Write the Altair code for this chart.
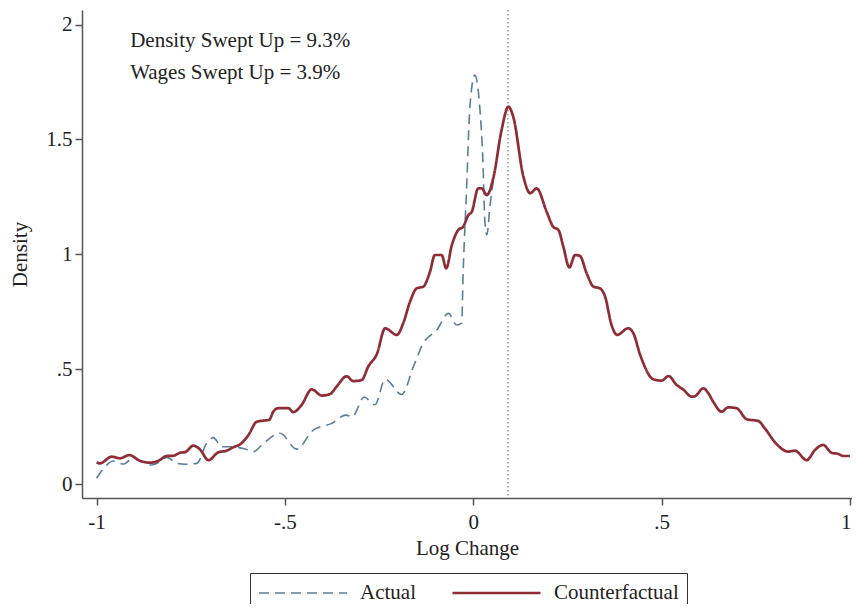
import altair as alt
import pandas as pd

# Counterfactual density
cf_x = [-1.000, -0.991, -0.960, -0.938, -0.913, -0.885, -0.858, -0.836, -0.814, -0.796,
        -0.779, -0.765, -0.743, -0.726, -0.703, -0.677, -0.655, -0.637, -0.619, -0.597,
        -0.575, -0.557, -0.542, -0.531, -0.518, -0.491, -0.478, -0.456, -0.429, -0.402,
        -0.380, -0.363, -0.336, -0.319, -0.296, -0.279, -0.256, -0.234, -0.203, -0.186,
        -0.168, -0.150, -0.133, -0.115, -0.102, -0.084, -0.072, -0.057, -0.040, -0.027,
        -0.013, -0.004, 0.013, 0.022, 0.036, 0.053, 0.075, 0.093, 0.106, 0.133,
        0.151, 0.168, 0.195, 0.212, 0.226, 0.239, 0.255, 0.270, 0.283, 0.301,
        0.319, 0.336, 0.350, 0.367, 0.382, 0.411, 0.425, 0.443, 0.478, 0.500,
        0.518, 0.540, 0.557, 0.580, 0.589, 0.611, 0.624, 0.637, 0.659, 0.677,
        0.699, 0.726, 0.757, 0.774, 0.805, 0.836, 0.854, 0.885, 0.907, 0.929,
        0.951, 0.969, 0.982, 1.000]
cf_y = [0.094, 0.090, 0.119, 0.112, 0.126, 0.101, 0.093, 0.101, 0.122, 0.123,
        0.136, 0.139, 0.167, 0.151, 0.104, 0.138, 0.145, 0.160, 0.173, 0.213,
        0.271, 0.276, 0.279, 0.315, 0.330, 0.330, 0.313, 0.344, 0.412, 0.385,
        0.392, 0.424, 0.469, 0.448, 0.453, 0.511, 0.566, 0.678, 0.649, 0.700,
        0.794, 0.852, 0.859, 0.924, 0.997, 0.997, 0.939, 1.040, 1.106, 1.120,
        1.171, 1.185, 1.287, 1.287, 1.258, 1.331, 1.541, 1.643, 1.599, 1.338,
        1.266, 1.287, 1.184, 1.120, 1.106, 1.033, 0.943, 0.997, 0.993, 0.917,
        0.859, 0.852, 0.815, 0.692, 0.649, 0.678, 0.656, 0.562, 0.456, 0.450,
        0.470, 0.431, 0.412, 0.380, 0.383, 0.417, 0.395, 0.358, 0.315, 0.334,
        0.330, 0.282, 0.274, 0.242, 0.174, 0.141, 0.145, 0.104, 0.148, 0.170,
        0.136, 0.131, 0.122, 0.122]

# Actual density (joins the counterfactual near 0.05)
act_x = [-1.000, -0.973, -0.956, -0.929, -0.903, -0.880, -0.854, -0.832, -0.814, -0.787,
         -0.765, -0.734, -0.708, -0.690, -0.668, -0.637, -0.606, -0.584, -0.557, -0.513,
         -0.469, -0.425, -0.376, -0.338, -0.321, -0.290, -0.261, -0.234, -0.190, -0.159,
         -0.133, -0.097, -0.066, -0.044, -0.031, -0.027, -0.018, -0.009, 0.004, 0.017,
         0.025, 0.031, 0.036, 0.044, 0.053]
act_y = [0.025, 0.083, 0.100, 0.087, 0.112, 0.097, 0.083, 0.097, 0.116, 0.090,
         0.086, 0.090, 0.177, 0.202, 0.162, 0.162, 0.152, 0.141, 0.177, 0.221,
         0.152, 0.235, 0.264, 0.300, 0.293, 0.379, 0.345, 0.456, 0.390, 0.511,
         0.613, 0.670, 0.743, 0.692, 0.700, 0.919, 1.280, 1.643, 1.780, 1.643,
         1.425, 1.135, 1.084, 1.207, 1.320]

series_names = ["Actual", "Counterfactual"]
series_colors = ["#5a7d9c", "#8f2d37"]

x_ticks = [-1, -0.5, 0, 0.5, 1]
y_ticks = [0, 0.5, 1, 1.5, 2]
x_domain = [-1.0388, 1.0053]
y_domain = [-0.0609, 2.0636]

sweep_x = [0.092]
note_text = ["Density Swept Up = 9.3%", "Wages Swept Up = 3.9%"]
note_x = [-0.911, -0.911]
note_y = [1.902, 1.762]

FONT = "Liberation Serif"
FS = 21

act_df = pd.DataFrame({"x": act_x, "y": act_y, "series": "Actual"})
cf_df = pd.DataFrame({"x": cf_x, "y": cf_y, "series": "Counterfactual"})
sweep_df = pd.DataFrame({"x": sweep_x})
note_df = pd.DataFrame({"x": note_x, "y": note_y, "t": note_text})

label_expr = "datum.value == 0 ? '0' : replace(toString(datum.value), '0.', '.')"

xscale = alt.Scale(domain=x_domain, nice=False, zero=False)
yscale = alt.Scale(domain=y_domain, nice=False, zero=False)

x_enc = alt.X("x:Q", scale=xscale,
              axis=alt.Axis(values=x_ticks, title="Log Change", labelExpr=label_expr,
                            labelAlign={"condition": {"test": "datum.value == 1", "value": "right"},
                                        "value": "center"},
                            labelOffset={"condition": {"test": "datum.value == 1", "value": 1},
                                         "value": 0},
                            grid=False, tickSize=7, labelPadding=6, titlePadding=5))
y_enc = alt.Y("y:Q", scale=yscale,
              axis=alt.Axis(values=y_ticks, title="Density", labelExpr=label_expr,
                            grid=False, tickSize=7, labelPadding=3, titlePadding=15))

color_enc = alt.Color("series:N",
                      scale=alt.Scale(domain=series_names, range=series_colors),
                      legend=alt.Legend(title=None))
dash_enc = alt.StrokeDash("series:N",
                          scale=alt.Scale(domain=series_names, range=[[10, 6], [1, 0]]),
                          legend=alt.Legend(title=None))
width_enc = alt.StrokeWidth("series:N",
                            scale=alt.Scale(domain=series_names, range=[1.6, 2.7]),
                            legend=None)

sweep = alt.Chart(sweep_df).mark_rule(color="#8a8a8a", strokeDash=[1.5, 2.5], strokeWidth=1.3).encode(
    x=alt.X("x:Q", scale=xscale)
)

act_line = alt.Chart(act_df).mark_line(interpolate="monotone").encode(
    x=x_enc, y=y_enc, color=color_enc, strokeDash=dash_enc, strokeWidth=width_enc
)
cf_line = alt.Chart(cf_df).mark_line(interpolate="monotone").encode(
    x=x_enc, y=y_enc, color=color_enc, strokeDash=dash_enc, strokeWidth=width_enc
)

notes = alt.Chart(note_df).mark_text(align="left", baseline="alphabetic", font=FONT,
                                     fontSize=FS, color="#222222").encode(
    x=alt.X("x:Q", scale=xscale), y=alt.Y("y:Q", scale=yscale), text="t:N"
)

chart = alt.layer(sweep, act_line, cf_line, notes).properties(
    width=770, height=488,
    autosize=alt.AutoSizeParams(type="none"),
    padding={"left": 74, "top": 2, "right": 0, "bottom": 106},
    background="white",
).configure_view(stroke=None).configure_axis(
    labelFont=FONT, titleFont=FONT, labelFontSize=FS, titleFontSize=FS,
    titleFontWeight="normal", labelColor="#222222", titleColor="#222222",
    domainColor="#555555", tickColor="#555555", domainWidth=1.5, tickWidth=1.5,
).configure_legend(
    orient="none", legendX=168, legendY=563, direction="horizontal",
    labelFont=FONT, labelFontSize=FS, labelColor="#222222",
    strokeColor="#333333", padding=8, symbolType="stroke", symbolSize=7744,
    clipHeight=24, labelOffset=12, columnPadding=35, symbolStrokeWidth=1.6,
)

chart.save("out.html", embed_options={"renderer": "svg", "actions": False})
